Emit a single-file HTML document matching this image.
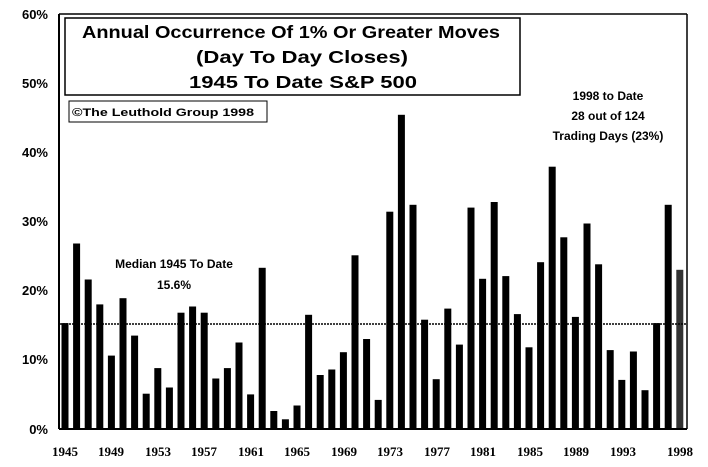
<!DOCTYPE html><html><head><style>body{margin:0;background:#fff}svg{display:block}</style></head><body>
<svg width="708" height="467" xmlns="http://www.w3.org/2000/svg" font-family="Liberation Sans, sans-serif" font-weight="bold">
<g fill="#000">
<rect x="61.5" y="323.1" width="7" height="105.9"/>
<rect x="73.1" y="243.5" width="7" height="185.5"/>
<rect x="84.7" y="279.5" width="7" height="149.5"/>
<rect x="96.3" y="304.4" width="7" height="124.6"/>
<rect x="107.9" y="355.6" width="7" height="73.4"/>
<rect x="119.5" y="298.2" width="7" height="130.8"/>
<rect x="131.1" y="335.6" width="7" height="93.4"/>
<rect x="142.7" y="393.7" width="7" height="35.3"/>
<rect x="154.3" y="368.1" width="7" height="60.9"/>
<rect x="165.9" y="387.5" width="7" height="41.5"/>
<rect x="177.5" y="312.7" width="7" height="116.3"/>
<rect x="189.1" y="306.5" width="7" height="122.5"/>
<rect x="200.7" y="312.7" width="7" height="116.3"/>
<rect x="212.3" y="378.5" width="7" height="50.5"/>
<rect x="223.9" y="368.1" width="7" height="60.9"/>
<rect x="235.5" y="342.5" width="7" height="86.5"/>
<rect x="247.1" y="394.4" width="7" height="34.6"/>
<rect x="258.7" y="267.8" width="7" height="161.2"/>
<rect x="270.3" y="411" width="7" height="18"/>
<rect x="281.9" y="419.3" width="7" height="9.7"/>
<rect x="293.5" y="405.5" width="7" height="23.5"/>
<rect x="305.1" y="314.8" width="7" height="114.2"/>
<rect x="316.7" y="375" width="7" height="54"/>
<rect x="328.3" y="369.5" width="7" height="59.5"/>
<rect x="339.9" y="352.2" width="7" height="76.8"/>
<rect x="351.5" y="255.3" width="7" height="173.7"/>
<rect x="363.1" y="339" width="7" height="90"/>
<rect x="374.7" y="399.9" width="7" height="29.1"/>
<rect x="386.3" y="211.7" width="7" height="217.3"/>
<rect x="397.9" y="114.8" width="7" height="314.2"/>
<rect x="409.5" y="204.8" width="7" height="224.2"/>
<rect x="421.1" y="319.7" width="7" height="109.3"/>
<rect x="432.7" y="379.2" width="7" height="49.8"/>
<rect x="444.3" y="308.6" width="7" height="120.4"/>
<rect x="455.9" y="344.6" width="7" height="84.4"/>
<rect x="467.5" y="207.6" width="7" height="221.4"/>
<rect x="479.1" y="278.8" width="7" height="150.2"/>
<rect x="490.7" y="202" width="7" height="227"/>
<rect x="502.3" y="276.1" width="7" height="152.9"/>
<rect x="513.9" y="314.1" width="7" height="114.9"/>
<rect x="525.5" y="347.3" width="7" height="81.7"/>
<rect x="537.1" y="262.2" width="7" height="166.8"/>
<rect x="548.7" y="166.7" width="7" height="262.3"/>
<rect x="560.3" y="237.3" width="7" height="191.7"/>
<rect x="571.9" y="316.9" width="7" height="112.1"/>
<rect x="583.5" y="223.5" width="7" height="205.5"/>
<rect x="595.1" y="264.3" width="7" height="164.7"/>
<rect x="606.7" y="350.1" width="7" height="78.9"/>
<rect x="618.3" y="379.9" width="7" height="49.1"/>
<rect x="629.9" y="351.5" width="7" height="77.5"/>
<rect x="641.5" y="390.2" width="7" height="38.8"/>
<rect x="653.1" y="323.1" width="7" height="105.9"/>
<rect x="664.7" y="204.8" width="7" height="224.2"/>
<rect x="676.3" y="269.8" width="7" height="159.2" fill="#333"/>
</g>
<line x1="59" y1="14" x2="687" y2="14" stroke="#000" stroke-width="1.5"/>
<line x1="687" y1="14" x2="687" y2="429" stroke="#000" stroke-width="1.5"/>
<line x1="59" y1="14" x2="59" y2="429" stroke="#000" stroke-width="2"/>
<line x1="59" y1="429" x2="687" y2="429" stroke="#000" stroke-width="2"/>
<g font-size="13" text-anchor="end">
<text x="48" y="19">60%</text><text x="48" y="88">50%</text><text x="48" y="157">40%</text><text x="48" y="226">30%</text><text x="48" y="295">20%</text><text x="48" y="364">10%</text><text x="48" y="434">0%</text>
</g>
<g font-family="Liberation Serif, serif" font-size="13" text-anchor="middle">
<text x="65" y="456">1945</text><text x="111" y="456">1949</text><text x="158" y="456">1953</text><text x="204" y="456">1957</text><text x="251" y="456">1961</text><text x="297" y="456">1965</text><text x="344" y="456">1969</text><text x="390" y="456">1973</text><text x="437" y="456">1977</text><text x="483" y="456">1981</text><text x="530" y="456">1985</text><text x="576" y="456">1989</text><text x="623" y="456">1993</text><text x="680" y="456">1998</text>
</g>
<rect x="65" y="18" width="455" height="77" fill="#fff" stroke="#000" stroke-width="1.5"/>
<g font-size="17.5">
<text x="82" y="38" textLength="418" lengthAdjust="spacingAndGlyphs">Annual Occurrence Of 1% Or Greater Moves</text>
<text x="196" y="63" textLength="212" lengthAdjust="spacingAndGlyphs">(Day To Day Closes)</text>
<text x="189" y="88" textLength="228" lengthAdjust="spacingAndGlyphs">1945 To Date S&amp;P 500</text>
</g>
<rect x="69" y="101" width="198" height="21" fill="#fff" stroke="#000" stroke-width="1"/>
<text x="72" y="116" font-size="11" textLength="182" lengthAdjust="spacingAndGlyphs">©The Leuthold Group 1998</text>
<g font-size="12" text-anchor="middle"><text x="174" y="268">Median 1945 To Date</text><text x="174" y="289">15.6%</text>
<text x="608" y="100">1998 to Date</text><text x="608" y="120">28 out of 124</text><text x="608" y="140">Trading Days (23%)</text></g>
<line x1="60" y1="324" x2="686" y2="324" stroke="#000" stroke-width="1.5" stroke-dasharray="2,1"/>
</svg></body></html>
